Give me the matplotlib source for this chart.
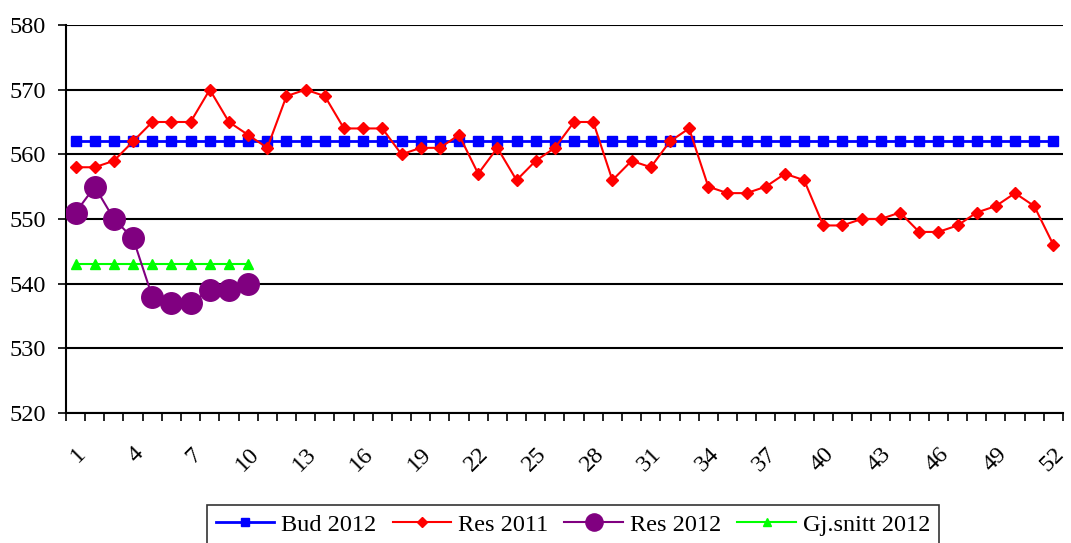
import numpy as np
import matplotlib.pyplot as plt

plt.rcParams['font.family'] = ['Liberation Serif', 'DejaVu Serif']

uker = np.arange(1, 53)
bud_2012 = [562] * 52
res_2011 = [558, 558, 559, 562, 565, 565, 565, 570, 565, 563,
            561, 569, 570, 569, 564, 564, 564, 560, 561, 561,
            563, 557, 561, 556, 559, 561, 565, 565, 556, 559,
            558, 562, 564, 555, 554, 554, 555, 557, 556, 549,
            549, 550, 550, 551, 548, 548, 549, 551, 552, 554,
            552, 546]
res_2012 = [551, 555, 550, 547, 538, 537, 537, 539, 539, 540]
gj_snitt_2012 = [543] * 10

fig = plt.figure(figsize=(10.71, 5.43), dpi=100)
ax = fig.add_axes([0.0616, 0.2394, 0.9309, 0.7146])

ax.plot(uker, bud_2012, '-s', color='#0000ff', lw=2, ms=6.5, label='Bud 2012', zorder=3)
ax.plot(uker, res_2011, '-D', color='#ff0000', lw=1.5, ms=6, label='Res 2011', zorder=4)
ax.plot(uker[:10], res_2012, '-o', color='#800080', lw=1.5, ms=15.5, label='Res 2012', zorder=5)
ax.plot(uker[:10], gj_snitt_2012, '-^', color='#00ff00', lw=1.5, ms=6.5, label='Gj.snitt 2012', zorder=3)

ax.set_xlim(0.5, 52.5)
ax.set_ylim(520, 580)
ax.set_yticks(np.arange(520, 581, 10))
ax.yaxis.grid(True, color='black', lw=1.5)
ax.set_axisbelow(True)

ax.set_xticks(uker[::3])
ax.set_xticklabels([str(u) for u in uker[::3]], rotation=45, ha='right', va='top',
                   rotation_mode='anchor')
ax.set_xticks(np.arange(0.5, 53, 1), minor=True)
ax.tick_params(axis='x', which='major', length=0, pad=22, labelsize=17.5)
ax.tick_params(axis='x', which='minor', length=6, width=1.2, direction='out')
ax.tick_params(axis='y', length=6, width=1.2, pad=8.5, labelsize=17.5)

for s in ['top', 'right']:
    ax.spines[s].set_visible(False)
ax.spines['left'].set_linewidth(1.5)
ax.spines['bottom'].set_linewidth(1.5)

leg = fig.legend(loc='upper center', bbox_to_anchor=(0.535, 0.07), ncol=4,
                 frameon=True, fancybox=False, edgecolor='black', fontsize=17.5,
                 handlelength=2.4, columnspacing=0.66, handletextpad=0.3,
                 borderpad=0.35, borderaxespad=0, markerscale=0.8)
leg.get_frame().set_linewidth(1.2)

fig.savefig('out.png', dpi=100)
